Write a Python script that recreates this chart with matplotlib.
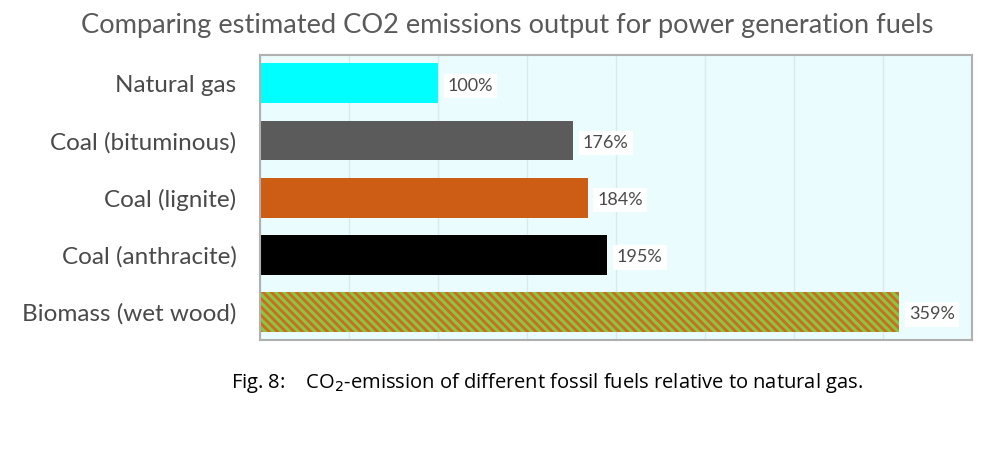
import matplotlib
matplotlib.use("Agg")
import matplotlib.pyplot as plt

# datos
combustibles = ["Natural gas", "Coal (bituminous)", "Coal (lignite)",
                "Coal (anthracite)", "Biomass (wet wood)"]
emisiones = [100, 176, 184, 195, 359]
colores = ["#00ffff", "#5b5b5b", "#cd5c14", "#000000", "#c96d26"]
etiquetas = ["100%", "176%", "184%", "195%", "359%"]

plt.rcParams["hatch.linewidth"] = 2.2

fig = plt.figure(figsize=(10, 4.5), dpi=100)
ax = fig.add_axes([0.26, 0.244, 0.712, 0.634])
ax.set_facecolor("#eafcfd")

y = list(range(len(combustibles)))
barras = ax.barh(y, emisiones, height=0.7, color=colores, linewidth=0, zorder=2)
# biomasa rayada verde/naranja
barras[-1].set_hatch("\\\\\\\\")
barras[-1].set_edgecolor("#8cc63f")
barras[-1].set_linewidth(0)

for i in range(len(emisiones)):
    ax.annotate(etiquetas[i], (emisiones[i], y[i]), xytext=(7, -2),
                textcoords="offset points", va="center", ha="left",
                fontsize=13, color="#4a4a4a", family="Lato",
                bbox=dict(facecolor="white", edgecolor="none", pad=3))

ax.set_xlim(0, 400)
ax.set_ylim(len(combustibles) - 0.5, -0.5)
ax.set_xticks(range(0, 401, 50))
ax.set_xticklabels([])
ax.tick_params(axis="x", length=0)
ax.tick_params(axis="y", length=0, pad=17)
ax.set_yticks(y)
ax.set_yticklabels(combustibles, fontsize=17.5, color="#4a4a4a", family="Lato")
ax.grid(axis="x", color="#dae9eb", linewidth=1, zorder=0)
for s in ax.spines.values():
    s.set_color("#b0b0b0")
    s.set_linewidth(1.5)

fig.text(0.507, 0.944, "Comparing estimated CO2 emissions output for power generation fuels",
         ha="center", va="center", fontsize=19.6, color="#5a5a5a", family="Lato")
fig.text(0.547, 0.148, "Fig. 8:    CO$_2$-emission of different fossil fuels relative to natural gas.",
         ha="center", va="center", fontsize=14.5, color="black", family="Open Sans")

fig.savefig("out.png")
